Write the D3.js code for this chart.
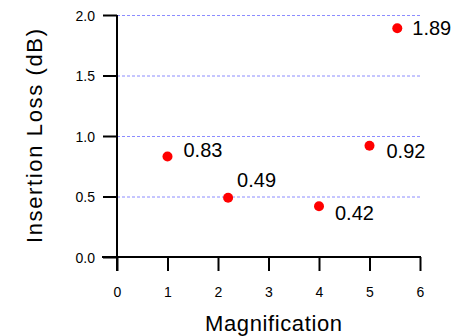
<!DOCTYPE html>
<html>
<head>
<meta charset="utf-8">
<script src="https://cdn.jsdelivr.net/npm/d3@7"></script>
<style>
  body { margin: 0; background: #fff; }
  text { font-family: "Liberation Sans", Arial, sans-serif; }
</style>
</head>
<body>
<div id="chart"></div>
<script>
// data
var magnification = [1, 2.2, 4, 5, 5.55];
var insertionLoss = [0.83, 0.49, 0.42, 0.92, 1.89];
var valueLabels = ["0.83", "0.49", "0.42", "0.92", "1.89"];
var xTicks = [0, 1, 2, 3, 4, 5, 6];
var yTicks = [0, 0.5, 1.0, 1.5, 2.0];

// where each value label sits relative to its point
var labelOffsets = [[16, 0], [9, -11], [16, 14], [17, 12], [15, 7]];

var svgWidth = 459, svgHeight = 336;
var margin = { top: 15, right: 39, bottom: 79, left: 117 };
var chartWidth = svgWidth - margin.left - margin.right;
var chartHeight = svgHeight - margin.top - margin.bottom;

var svg = d3.select("#chart").append("svg")
  .attr("width", svgWidth)
  .attr("height", svgHeight);

var chartGroup = svg.append("g")
  .attr("transform", `translate(${margin.left}, ${margin.top})`);

var xScale = d3.scaleLinear().domain([0, 6]).range([0, chartWidth]);
var yScale = d3.scaleLinear().domain([0, 2]).range([chartHeight, 0]);

// dashed grid
chartGroup.selectAll(".grid")
  .data(yTicks.filter(d => d > 0))
  .enter()
  .append("line")
  .attr("x1", 0)
  .attr("x2", chartWidth)
  .attr("y1", d => yScale(d) + 0.5)
  .attr("y2", d => yScale(d) + 0.5)
  .attr("stroke", "#8c8cff")
  .attr("stroke-width", 1)
  .attr("stroke-dasharray", "3,2");

// y axis
var yAxis = d3.axisLeft(yScale)
  .tickValues(yTicks)
  .tickFormat(d3.format(".1f"))
  .tickSize(14)
  .tickPadding(8);

var yG = chartGroup.append("g").call(yAxis);
yG.select(".domain").remove();
yG.selectAll("line").attr("stroke", "#000").attr("stroke-width", 2);
yG.selectAll("text")
  .style("font-size", "14px")
  .attr("fill", "#000")
  .attr("dy", "0.36em");

// x axis (0 included, its tick hidden behind the y axis line)
var xAxis = d3.axisBottom(xScale)
  .tickValues(xTicks)
  .tickFormat(d3.format("d"))
  .tickSize(14);

var xG = chartGroup.append("g")
  .attr("transform", `translate(0, ${chartHeight})`)
  .call(xAxis);
xG.select(".domain").remove();
xG.selectAll("line").attr("stroke", "#000").attr("stroke-width", 2);
xG.selectAll("text")
  .style("font-size", "14px")
  .attr("fill", "#000")
  .attr("y", 40)
  .attr("dy", 0);

// axis lines
chartGroup.append("line")
  .attr("x1", xScale(0)).attr("x2", xScale(0))
  .attr("y1", yScale(2)).attr("y2", chartHeight + 14)
  .attr("stroke", "#000").attr("stroke-width", 2);

chartGroup.append("line")
  .attr("x1", -15).attr("x2", xScale(6) + 1)
  .attr("y1", chartHeight).attr("y2", chartHeight)
  .attr("stroke", "#000").attr("stroke-width", 2);

// points
chartGroup.selectAll(".pt")
  .data(magnification)
  .enter()
  .append("circle")
  .attr("cx", d => xScale(d))
  .attr("cy", (d, i) => yScale(insertionLoss[i]))
  .attr("r", 5)
  .attr("fill", "#ff0000");

chartGroup.selectAll(".val")
  .data(valueLabels)
  .enter()
  .append("text")
  .attr("x", (d, i) => xScale(magnification[i]) + labelOffsets[i][0])
  .attr("y", (d, i) => yScale(insertionLoss[i]) + labelOffsets[i][1])
  .style("font-size", "20px")
  .attr("fill", "#000")
  .text(d => d);

// axis titles
chartGroup.append("text")
  .attr("x", chartWidth / 2 + 5)
  .attr("y", chartHeight + 74)
  .attr("text-anchor", "middle")
  .style("font-size", "22px")
  .attr("fill", "#000")
  .attr("textLength", 137)
  .text("Magnification");

chartGroup.append("text")
  .attr("transform", `translate(-75, 121) rotate(-90)`)
  .attr("text-anchor", "middle")
  .style("font-size", "22px")
  .attr("fill", "#000")
  .attr("textLength", 214)
  .text("Insertion Loss (dB)");
</script>
</body>
</html>
